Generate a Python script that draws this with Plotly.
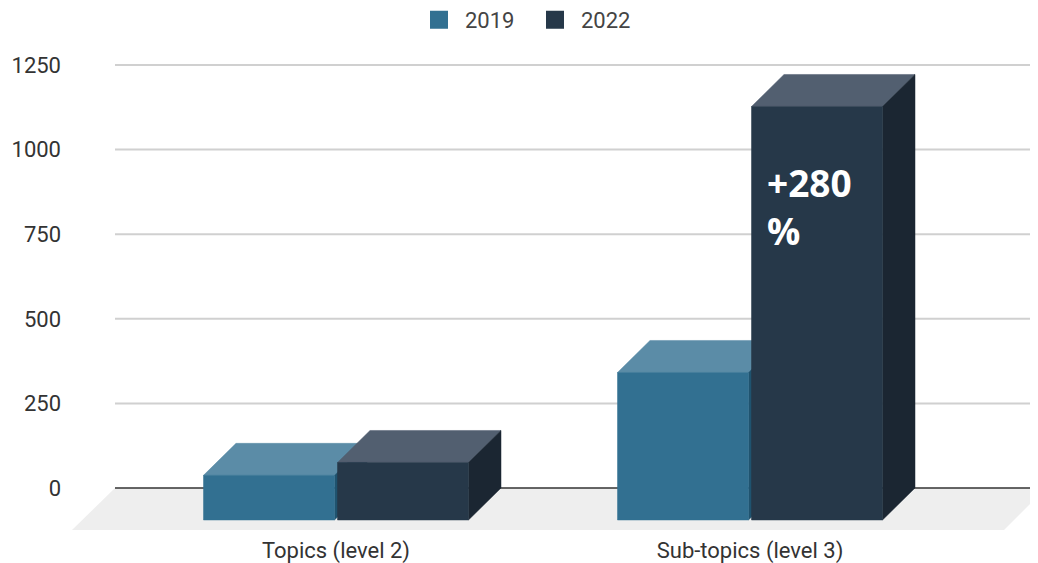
import plotly.graph_objects as go

categories = ["Topics (level 2)", "Sub-topics (level 3)"]
values_2019 = [132, 436]
values_2022 = [170, 1222]
y_ticks = [0, 250, 500, 750, 1000, 1250]

# Window geometry (page body has an 8px margin)
W, H, OFF = 1038, 563, 8
PLOT_L, PLOT_T, PLOT_B = 68, 50, 530
PX_X = 414.0          # pixels per category
PX_Y = 0.3384         # pixels per value unit
X_CENTER0 = 336       # pixel of first category
Y_ZERO = 488          # pixel of value 0


def xv(px):
    return (px - X_CENTER0) / PX_X


def yv(px):
    return (Y_ZERO - px) / PX_Y


xmin, xmax = xv(PLOT_L), xv(W)
ymax, ymin = yv(PLOT_T), yv(PLOT_B)

BAR = 131 / PX_X
GAP = 3 / PX_X
DX = 32.5 / PX_X
DY = 32 / PX_Y


def polys(items):
    xs, ys = [], []
    for pts in items:
        xs += [p[0] for p in pts] + [pts[0][0], None]
        ys += [p[1] for p in pts] + [pts[0][1], None]
    return xs, ys


def box_traces(name, vals, side, front_c, top_c, side_c):
    tops, sides, fronts = [], [], []
    for i, v in enumerate(vals):
        x0 = i + (-BAR - GAP / 2 if side < 0 else GAP / 2)
        x1 = x0 + BAR
        ft = v - DY
        tops.append([(x0, ft), (x1, ft), (x1 + DX, v), (x0 + DX, v)])
        sides.append([(x1, -DY), (x1 + DX, 0), (x1 + DX, v), (x1, ft)])
        fronts.append([(x0, -DY), (x1, -DY), (x1, ft), (x0, ft)])
    out = []
    for label, pts, c in (("top", tops, top_c), ("side", sides, side_c), ("front", fronts, front_c)):
        xs, ys = polys(pts)
        out.append(go.Scatter(x=xs, y=ys, mode="lines", fill="toself", fillcolor=c,
                              line=dict(width=0.5, color=c), showlegend=False,
                              hoverinfo="skip", name=f"{name} {label}"))
    return out


fig = go.Figure()

# gridlines start at the back wall, not at the plot edge
gx, gy = [], []
for t in y_ticks[1:]:
    gx += [xv(115), xmax, None]
    gy += [t, t, None]
fig.add_trace(go.Scatter(x=gx, y=gy, mode="lines", line=dict(color="#d0d0d0", width=2),
                         showlegend=False, hoverinfo="skip", name="grid"))

# floor
fx, fy = polys([[(xv(115), 0), (xv(1046), 0), (xv(1004), ymin), (xv(72), ymin)]])
fig.add_trace(go.Scatter(x=fx, y=fy, mode="lines", fill="toself", fillcolor="#eeeeee",
                         line=dict(width=0, color="#eeeeee"), showlegend=False,
                         hoverinfo="skip", name="floor"))

# zero baseline
fig.add_trace(go.Scatter(x=[xv(115), xmax], y=[0, 0], mode="lines",
                         line=dict(color="#333333", width=1.5),
                         showlegend=False, hoverinfo="skip", name="baseline"))

for t in box_traces("2019", values_2019, -1, "#327091", "#5b8ca7", "#1f536f"):
    fig.add_trace(t)
for t in box_traces("2022", values_2022, 1, "#263849", "#525f70", "#1b2632"):
    fig.add_trace(t)

# legend entries
for name, c in (("2019", "#327091"), ("2022", "#263849")):
    fig.add_trace(go.Scatter(x=[None], y=[None], mode="markers", name=name,
                             marker=dict(symbol="square", size=16, color=c,
                                         line=dict(width=2, color=c))))

fig.add_annotation(x=xv(764.5), y=yv(206), xref="x", yref="y",
                   text="<b>+280<br>%</b>", showarrow=False, align="left", xanchor="left",
                   yanchor="middle", font=dict(family="Open Sans", size=37, color="#ffffff"))

fig.update_layout(
    width=W - OFF, height=H - OFF,
    margin=dict(l=PLOT_L - OFF, r=0, t=PLOT_T - OFF, b=H - PLOT_B, pad=0),
    paper_bgcolor="#ffffff", plot_bgcolor="#ffffff",
    font=dict(family="Roboto", size=22, color="#333333"),
    legend=dict(orientation="h", xanchor="left", yanchor="middle",
                xref="container", yref="container",
                x=(413 - OFF) / (W - OFF), y=1 - (20 - OFF) / (H - OFF),
                itemwidth=42, entrywidth=59, entrywidthmode="pixels",
                font=dict(size=22, color="#444444"), bgcolor="rgba(0,0,0,0)"),
    xaxis=dict(range=[xmin, xmax], tickmode="array", tickvals=list(range(len(categories))),
               ticktext=categories, showgrid=False, zeroline=False, showline=False, ticks="",
               automargin=False, ticklabelstandoff=5, tickfont=dict(size=22, color="#333333")),
    yaxis=dict(range=[ymin, ymax], tickmode="array", tickvals=y_ticks,
               ticktext=[str(v) for v in y_ticks], showgrid=False,
               zeroline=False, showline=False, ticks="", automargin=False,
               ticklabelstandoff=6, tickfont=dict(size=22, color="#333333")),
)

fig.write_html("out.html")
